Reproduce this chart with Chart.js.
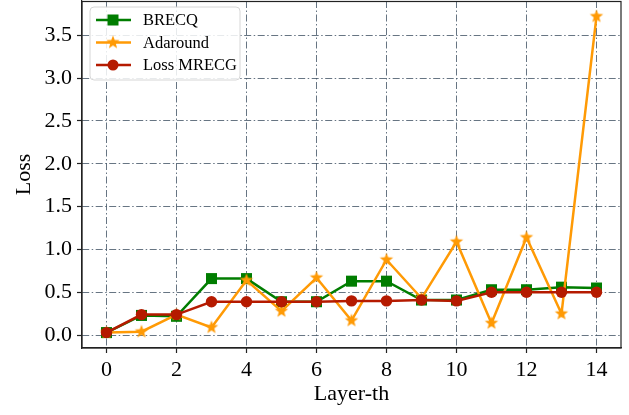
<!DOCTYPE html>
<html>
<head>
<meta charset="utf-8">
<script src="https://cdn.jsdelivr.net/npm/chart.js@4.4.1/dist/chart.umd.min.js"></script>
<style>
  html, body { margin: 0; padding: 0; background: #fff; }
  #wrap { width: 629px; height: 415px; position: relative; }
</style>
</head>
<body>
<div id="wrap"><canvas id="lossChart"></canvas></div>
<script>
// ============================================
// DATA
// ============================================
const layers   = [0, 1, 2, 3, 4, 5, 6, 7, 8, 9, 10, 11, 12, 13, 14];
const brecq    = [0.03, 0.23, 0.22, 0.66, 0.66, 0.39, 0.39, 0.63, 0.63, 0.41, 0.41, 0.53, 0.53, 0.56, 0.55];
const adaround = [0.03, 0.04, 0.24, 0.09, 0.64, 0.28, 0.67, 0.17, 0.88, 0.43, 1.09, 0.14, 1.14, 0.25, 3.72];
const mrecg    = [0.03, 0.24, 0.24, 0.39, 0.39, 0.39, 0.39, 0.40, 0.40, 0.41, 0.40, 0.50, 0.50, 0.50, 0.50];
const xTicks = [0, 2, 4, 6, 8, 10, 12, 14];
const yTicks = [0, 0.5, 1.0, 1.5, 2.0, 2.5, 3.0, 3.5];

const GREEN = '#007d00';
const ORANGE = '#ff9a05';
const RED = '#b51a00';
const SERIF = "'Liberation Serif', 'Times New Roman', serif";

// filled five point star used as point style
function makeStar(color, r) {
    const size = Math.ceil(r * 2 + 2);
    const c = document.createElement('canvas');
    c.width = size; c.height = size;
    const ctx = c.getContext('2d');
    const cx = size / 2, cy = size / 2, inner = r * 0.42;
    ctx.beginPath();
    for (let i = 0; i < 10; i++) {
        const rad = i % 2 === 0 ? r : inner;
        const a = -Math.PI / 2 + i * Math.PI / 5;
        ctx.lineTo(cx + rad * Math.cos(a), cy + rad * Math.sin(a));
    }
    ctx.closePath();
    ctx.fillStyle = color;
    ctx.fill();
    return c;
}
const starImg = makeStar(ORANGE, 7);

const toPoints = arr => arr.map((v, i) => ({ x: layers[i], y: v }));

// ============================================
// FRAME + LEGEND PLUGIN
// ============================================
const framePlugin = {
    id: 'frameLegend',
    afterDraw(chart) {
        const ctx = chart.ctx;
        const a = chart.chartArea;
        ctx.save();
        ctx.strokeStyle = '#222';
        ctx.lineWidth = 1.2;
        ctx.strokeRect(a.left, a.top + 0.5, a.right - a.left, a.bottom - a.top - 0.5);

        // legend box
        const lx = a.left + 8, ly = a.top + 6, lw = 150, lh = 73;
        ctx.beginPath();
        ctx.roundRect(lx, ly, lw, lh, 4);
        ctx.fillStyle = 'rgba(255,255,255,0.85)';
        ctx.fill();
        ctx.strokeStyle = '#d6d6d6';
        ctx.lineWidth = 1;
        ctx.stroke();

        chart.data.datasets.forEach((ds, i) => {
            const y = ly + 13 + i * 22.5;
            ctx.strokeStyle = ds.borderColor;
            ctx.lineWidth = 2.5;
            ctx.beginPath();
            ctx.moveTo(lx + 6, y);
            ctx.lineTo(lx + 41, y);
            ctx.stroke();
            const mx = lx + 23;
            ctx.fillStyle = ds.borderColor;
            if (ds.pointStyle === 'rect') {
                ctx.fillRect(mx - 5.5, y - 5.5, 11, 11);
            } else if (ds.pointStyle === 'circle') {
                ctx.beginPath();
                ctx.arc(mx, y, 5.5, 0, Math.PI * 2);
                ctx.fill();
            } else {
                ctx.drawImage(starImg, mx - starImg.width / 2, y - starImg.height / 2);
            }
            ctx.fillStyle = '#000';
            ctx.font = '16.5px ' + SERIF;
            ctx.textBaseline = 'middle';
            ctx.textAlign = 'left';
            ctx.fillText(ds.label, lx + 53, y + 1);
        });
        ctx.restore();
    }
};

// ============================================
// CHART
// ============================================
const gridStyle = {
    color: 'rgba(65, 82, 100, 0.8)',
    lineWidth: 1,
    drawTicks: true,
    tickLength: 5,
    tickColor: '#222',
    tickWidth: 1.2
};

new Chart(document.getElementById('lossChart'), {
    type: 'line',
    data: {
        datasets: [
            {
                label: 'BRECQ',
                data: toPoints(brecq),
                borderColor: GREEN,
                backgroundColor: GREEN,
                pointStyle: 'rect',
                pointRadius: 7.8,
                pointBorderWidth: 0,
                borderWidth: 2.5,
                order: 3
            },
            {
                label: 'Adaround',
                data: toPoints(adaround),
                borderColor: ORANGE,
                backgroundColor: ORANGE,
                pointStyle: starImg,
                borderWidth: 2.5,
                order: 2
            },
            {
                label: 'Loss MRECG',
                data: toPoints(mrecg),
                borderColor: RED,
                backgroundColor: RED,
                pointStyle: 'circle',
                pointRadius: 5.7,
                pointBorderWidth: 0,
                borderWidth: 2.5,
                order: 1
            }
        ]
    },
    options: {
        responsive: true,
        maintainAspectRatio: false,
        animation: false,
        layout: { autoPadding: false, padding: { top: 1, right: 8, left: 0, bottom: 0 } },
        plugins: {
            legend: { display: false },
            tooltip: { enabled: false }
        },
        scales: {
            x: {
                type: 'linear',
                min: -0.7,
                max: 14.7,
                afterBuildTicks: s => { s.ticks = xTicks.map(v => ({ value: v })); },
                afterFit: s => { s.height = 67; s.paddingLeft = 0; s.paddingRight = 0; },
                grid: gridStyle,
                border: { display: true, color: '#222', width: 1.2, dash: [7, 2.5, 1.5, 2.5] },
                ticks: {
                    color: '#000',
                    padding: 4,
                    font: { family: SERIF, size: 22 },
                    callback: v => String(v)
                },
                title: {
                    display: true,
                    text: 'Layer-th',
                    color: '#000',
                    font: { family: SERIF, size: 22 },
                    padding: { top: 0, bottom: 8 }
                }
            },
            y: {
                type: 'linear',
                min: -0.15,
                max: 3.9,
                afterBuildTicks: s => { s.ticks = yTicks.map(v => ({ value: v })); },
                afterFit: s => { s.width = 82; s.paddingTop = 0; s.paddingBottom = 0; },
                grid: gridStyle,
                border: { display: true, color: '#222', width: 1.2, dash: [7, 2.5, 1.5, 2.5] },
                ticks: {
                    color: '#000',
                    padding: 5,
                    font: { family: SERIF, size: 22 },
                    callback: v => v.toFixed(1)
                },
                title: {
                    display: true,
                    text: 'Loss',
                    color: '#000',
                    font: { family: SERIF, size: 22 },
                    padding: { top: 11, bottom: 0 }
                }
            }
        }
    },
    plugins: [framePlugin]
});
</script>
</body>
</html>
